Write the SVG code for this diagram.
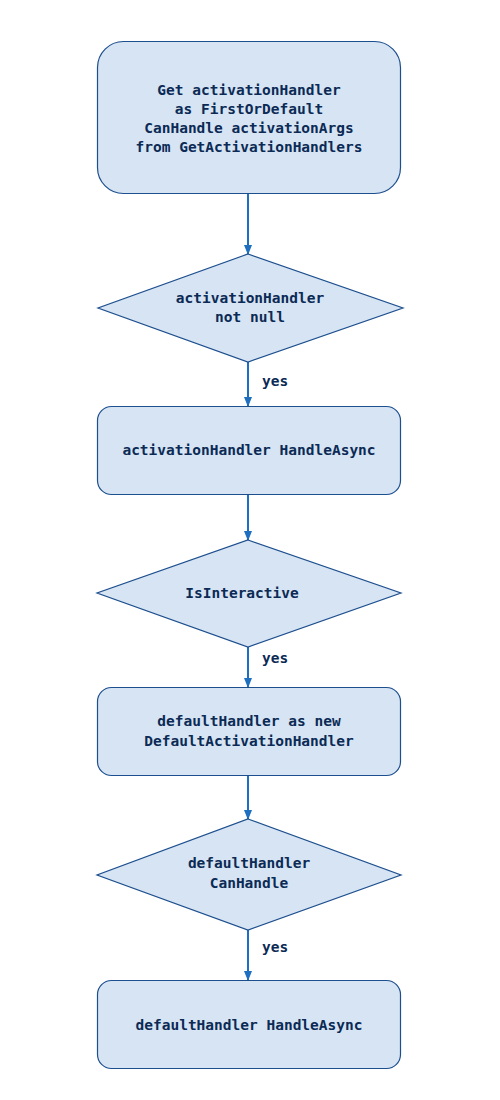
<svg xmlns="http://www.w3.org/2000/svg" width="500" height="1100" viewBox="0 0 500 1100">
  <defs>
    <marker id="arrow" viewBox="0 0 10 10" refX="9" refY="5" markerWidth="5" markerHeight="5" orient="auto">
      <path d="M0,1 L10,5 L0,9 z" fill="#1f6fc0"/>
    </marker>
    <style>
      .shape { fill: #d6e4f3; stroke: #1d4f8e; stroke-width: 1.2; }
      .label { font-family: "DejaVu Sans Mono", "Liberation Mono", monospace; font-weight: bold; font-size: 14.5px; fill: #0b2a55; text-anchor: middle; }
      .edge { fill: none; stroke: #1f6fc0; stroke-width: 2; marker-end: url(#arrow); }
      .edge-label { font-family: "DejaVu Sans Mono", "Liberation Mono", monospace; font-weight: bold; font-size: 14.5px; fill: #0b2a55; }
    </style>
  </defs>
  <rect width="500" height="1100" fill="#ffffff"/>

  <g id="connectors">
    <line class="edge" x1="248" y1="194" x2="248" y2="254"/>
    <line class="edge" x1="248" y1="362" x2="248" y2="406"/>
    <text class="edge-label" x="262" y="386">yes</text>
    <line class="edge" x1="248" y1="494" x2="248" y2="540"/>
    <line class="edge" x1="248" y1="647" x2="248" y2="687"/>
    <text class="edge-label" x="262" y="663">yes</text>
    <line class="edge" x1="248" y1="775" x2="248" y2="819"/>
    <line class="edge" x1="248" y1="930" x2="248" y2="980"/>
    <text class="edge-label" x="262" y="952">yes</text>
  </g>

  <g id="get-handler">
    <rect class="shape" x="97.5" y="41.5" width="303" height="152" rx="26"/>
    <text class="label" x="249" y="95">Get activationHandler</text>
    <text class="label" x="249" y="114">as FirstOrDefault</text>
    <text class="label" x="249" y="133">CanHandle activationArgs</text>
    <text class="label" x="249" y="152">from GetActivationHandlers</text>
  </g>

  <g id="handler-not-null">
    <polygon class="shape" points="248,254 403,308 248,362 98,308"/>
    <text class="label" x="250" y="303">activationHandler</text>
    <text class="label" x="250" y="322">not null</text>
  </g>

  <g id="handler-handle">
    <rect class="shape" x="97.5" y="406.5" width="303" height="88" rx="14"/>
    <text class="label" x="249" y="455">activationHandler HandleAsync</text>
  </g>

  <g id="is-interactive">
    <polygon class="shape" points="248,540 401,593 248,647 97,593"/>
    <text class="label" x="242" y="598">IsInteractive</text>
  </g>

  <g id="default-handler">
    <rect class="shape" x="97.5" y="687.5" width="303" height="88" rx="14"/>
    <text class="label" x="249" y="726">defaultHandler as new</text>
    <text class="label" x="249" y="746">DefaultActivationHandler</text>
  </g>

  <g id="default-can-handle">
    <polygon class="shape" points="248,819 401,875 248,930 97,875"/>
    <text class="label" x="249" y="868">defaultHandler</text>
    <text class="label" x="249" y="888">CanHandle</text>
  </g>

  <g id="default-handle">
    <rect class="shape" x="97.5" y="980.5" width="303" height="88" rx="14"/>
    <text class="label" x="249" y="1030">defaultHandler HandleAsync</text>
  </g>
</svg>
